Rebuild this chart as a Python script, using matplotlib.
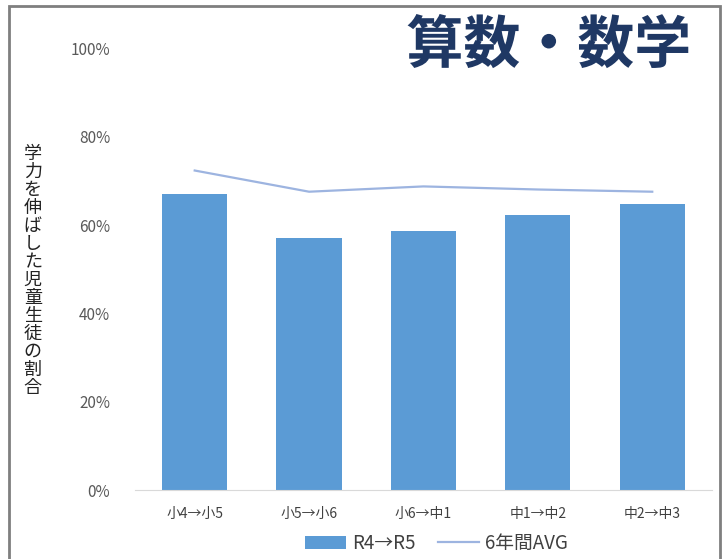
import matplotlib.pyplot as plt
import matplotlib.patheffects as pe
from matplotlib.lines import Line2D
from matplotlib.patches import Patch, Rectangle

plt.rcParams['font.family'] = ['Noto Sans CJK JP', 'DejaVu Sans']

# データ
categories = ['小4→小5', '小5→小6', '小6→中1', '中1→中2', '中2→中3']
r4_r5 = [0.67, 0.572, 0.586, 0.624, 0.649]
avg_6y = [0.724, 0.676, 0.688, 0.681, 0.676]
y_ticks = [0, 0.2, 0.4, 0.6, 0.8, 1.0]
y_labels = ['0%', '20%', '40%', '60%', '80%', '100%']

fig = plt.figure(figsize=(7.27, 5.59), dpi=100)
ax = fig.add_axes([0.186, 0.123, 0.793, 0.79])

x = range(len(categories))
ax.bar(x, r4_r5, width=0.57, color='#5B9BD5', zorder=2)
ax.plot(x, avg_6y, color='#9DB4E0', linewidth=1.6, zorder=3)

ax.set_ylim(0, 1.0)
ax.set_xlim(-0.52, 4.52)
ax.set_yticks(y_ticks)
ax.set_yticklabels(y_labels, fontsize=11, color='#595959')
ax.set_xticks(list(x))
ax.set_xticklabels(categories, fontsize=10, color='#404040')
ax.tick_params(axis='both', length=0, pad=12)
ax.tick_params(axis='y', pad=18)

for s in ['top', 'right', 'left']:
    ax.spines[s].set_visible(False)
ax.spines['bottom'].set_color('#D9D9D9')

# 縦書きのラベル
ylab = '学力を伸ばした児童生徒の割合'
fig.text(0.045, 0.515, '\n'.join(ylab), fontsize=13, ha='center', va='center',
         linespacing=1.0, color='#222222')

# タイトル
fig.text(0.755, 0.918, '算数・数学', fontsize=41, fontweight='bold', color='#1F3864',
         ha='center', va='center',
         path_effects=[pe.SimpleLineShadow(offset=(3, -3), shadow_color='#4A6FB5', alpha=0.9),
                       pe.withStroke(linewidth=3, foreground='white')])

# 凡例
handles = [Patch(facecolor='#5B9BD5'), Line2D([0], [0], color='#9DB4E0', linewidth=1.6)]
fig.legend(handles, ['R4→R5', '6年間AVG'], loc='center', bbox_to_anchor=(0.6, 0.028),
           ncol=2, frameon=False, fontsize=13.5, handlelength=2.2, columnspacing=1.2,
           handletextpad=0.3, labelcolor='#404040')

# 外枠
fig.patches.append(Rectangle((0.012, -0.01), 0.978, 1.0, transform=fig.transFigure,
                             fill=False, edgecolor='#7F7F7F', linewidth=2))

fig.savefig('out.png', dpi=100)
